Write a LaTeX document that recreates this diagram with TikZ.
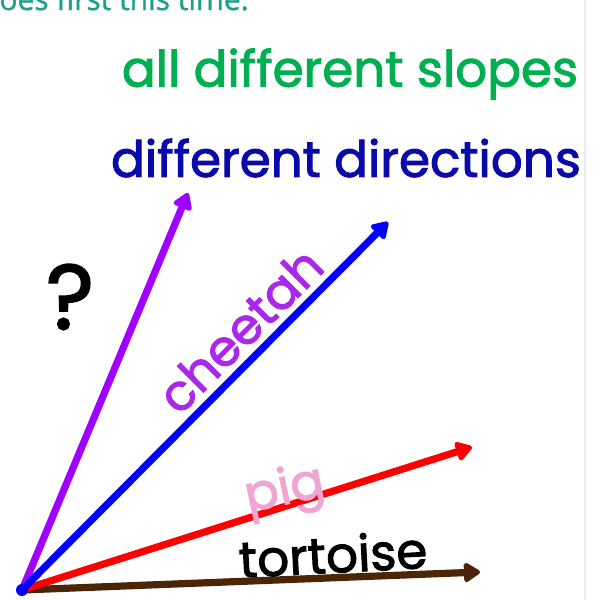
\documentclass[tikz,border=0pt]{standalone}
\usepackage{fontspec}
\newfontfamily\handfont[FakeBold=2]{Poppins}
\newfontfamily\slidefont[FakeBold=1.2]{Open Sans}
\usetikzlibrary{arrows.meta}
\definecolor{slopegreen}{RGB}{0,176,80}
\definecolor{dirblue}{RGB}{10,10,170}
\definecolor{violetline}{RGB}{160,0,255}
\definecolor{cheetahpurple}{RGB}{170,40,235}
\definecolor{pigpink}{RGB}{240,165,210}
\definecolor{tortbrown}{RGB}{75,37,7}
\definecolor{slideteal}{RGB}{30,158,140}
\tikzset{
  >={Triangle[round,length=3.2mm,width=3.8mm]},
  vec/.style={->,line width=3.6pt,line cap=round,line join=round},
  hand/.style={font=\handfont\fontsize{25}{29}\selectfont,inner sep=0pt},
  qmark/.style={font=\handfont\fontsize{46}{50}\selectfont,inner sep=0pt},
}

\begin{document}
\begin{tikzpicture}[x=0.5pt,y=-0.5pt]
  \useasboundingbox (0,0) rectangle (602,600);
  \draw[black!8,line width=0.8pt] (585,0) -- (585,600);
  \node[anchor=base west,inner sep=0pt,text=slideteal,
    font=\slidefont\fontsize{15}{17}\selectfont] (title) at (-1,10) {oes first this time.};
  \node[hand,text=slopegreen] (slopes) at (350,74) {all different slopes};
  \node[hand,text=dirblue] (dirs) at (346,158) {different directions};
  \node[qmark] (ques) at (70,297) {?};
  \coordinate (o) at (22,590);
  \coordinate (tipT) at (480,572);
  \coordinate (tipP) at (188,193);
  \coordinate (tipR) at (472,447);
  \coordinate (tipB) at (388,222);
  \draw[vec,tortbrown] (o) -- (tipT);
  \draw[vec,violetline] (o) -- (tipP);
  \draw[vec,red] (o) -- (tipR);
  \draw[vec,blue] (o) -- (tipB);
  \fill[blue] (o) circle (6);
  \node[hand,text=cheetahpurple,rotate=45] (cheetah) at (240,330) {cheetah};
  \node[hand,text=pigpink,rotate=12] (pig) at (285,492) {pig};
  \node[hand,rotate=3] (tortoise) at (333,554) {tortoise};
\end{tikzpicture}
\end{document}
